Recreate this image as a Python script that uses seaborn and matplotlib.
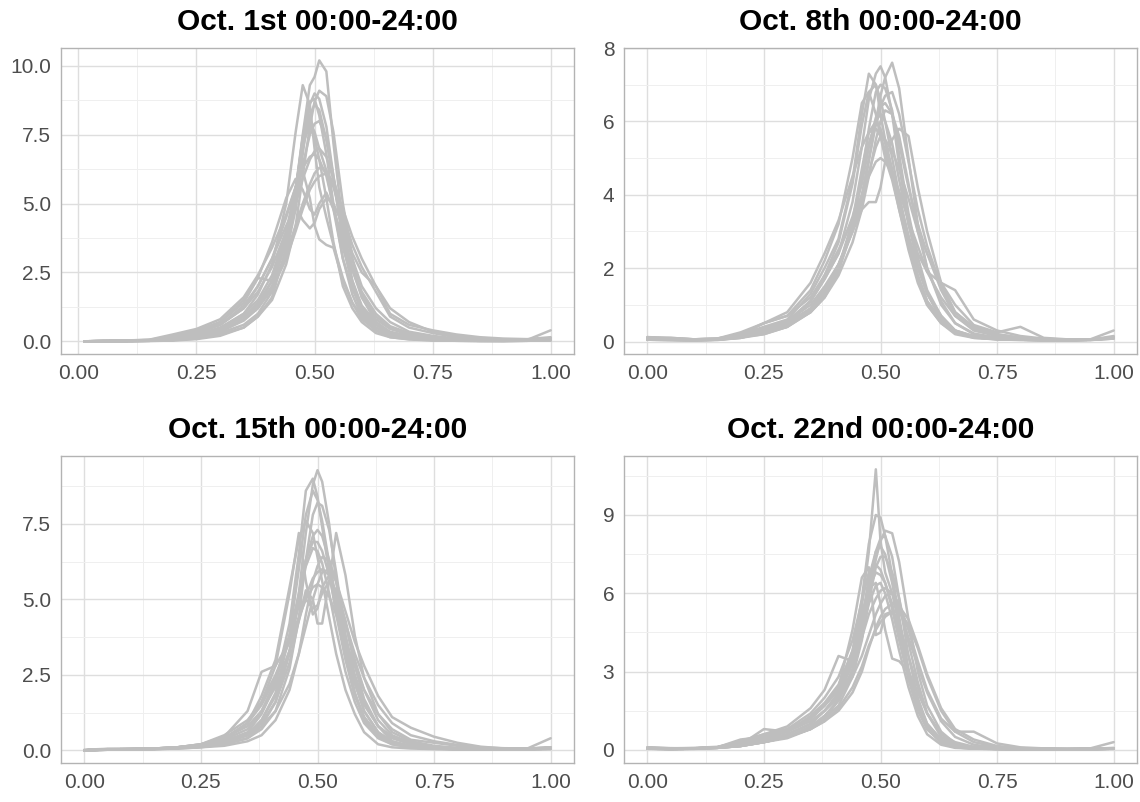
import numpy as np
import pandas as pd
import matplotlib
matplotlib.use("Agg")
import matplotlib.pyplot as plt
import seaborn as sns
from matplotlib.ticker import FixedLocator

# ---------------- data ----------------
TITLES = ["Oct. 1st 00:00-24:00", "Oct. 8th 00:00-24:00",
          "Oct. 15th 00:00-24:00", "Oct. 22nd 00:00-24:00"]

X_GRID = [0.0, 0.05, 0.10, 0.15, 0.20, 0.25, 0.30, 0.35, 0.38, 0.41,
          0.44, 0.46, 0.475, 0.49, 0.50, 0.51, 0.525, 0.54, 0.56, 0.58,
          0.60, 0.63, 0.66, 0.70, 0.75, 0.80, 0.85, 0.90, 0.95, 1.0]
X_START = [0.0125, 0.0, 0.0, 0.0]

OCT01 = [
    [0.0, 0.0, 0.01, 0.02, 0.05, 0.15, 0.35, 0.8, 1.3, 2.2, 3.8, 5.5, 7.5, 9.3, 9.6, 10.2, 9.8, 7.2, 4.2, 2.2, 1.1, 0.5, 0.25, 0.12, 0.06, 0.03, 0.02, 0.02, 0.03, 0.05],
    [0.0, 0.01, 0.02, 0.03, 0.08, 0.2, 0.45, 1.0, 1.7, 2.8, 5.0, 7.6, 9.3, 8.6, 7.0, 5.6, 4.5, 3.5, 2.3, 1.4, 0.8, 0.4, 0.2, 0.1, 0.05, 0.03, 0.02, 0.02, 0.04, 0.1],
    [0.0, 0.01, 0.02, 0.04, 0.12, 0.3, 0.7, 1.4, 2.3, 3.6, 5.2, 5.9, 5.5, 4.8, 4.6, 5.0, 5.4, 4.8, 3.7, 2.6, 1.6, 0.8, 0.45, 0.25, 0.12, 0.06, 0.04, 0.03, 0.03, 0.05],
    [0.0, 0.02, 0.03, 0.05, 0.2, 0.35, 0.6, 1.2, 2.0, 3.0, 4.5, 5.6, 6.2, 5.2, 4.2, 3.7, 3.5, 3.4, 2.2, 1.4, 0.9, 0.5, 0.3, 0.2, 0.1, 0.06, 0.04, 0.03, 0.05, 0.4],
    [0.0, 0.0, 0.01, 0.03, 0.08, 0.25, 0.5, 1.0, 1.5, 2.4, 4.0, 5.6, 7.0, 8.2, 8.6, 8.4, 7.3, 5.8, 3.8, 2.6, 1.7, 0.9, 0.5, 0.25, 0.12, 0.06, 0.04, 0.03, 0.04, 0.08],
    [0.0, 0.01, 0.02, 0.04, 0.1, 0.3, 0.6, 1.2, 1.8, 2.7, 4.0, 5.0, 5.9, 6.6, 6.9, 7.0, 6.7, 5.9, 4.6, 3.5, 2.7, 1.8, 0.9, 0.5, 0.3, 0.15, 0.08, 0.05, 0.06, 0.12],
    [0.0, 0.0, 0.01, 0.02, 0.05, 0.12, 0.3, 0.6, 1.0, 1.8, 3.2, 4.8, 6.8, 8.6, 9.0, 8.8, 7.8, 6.0, 3.6, 2.0, 1.0, 0.4, 0.15, 0.07, 0.03, 0.02, 0.01, 0.01, 0.02, 0.03],
    [0.0, 0.0, 0.01, 0.02, 0.05, 0.15, 0.35, 0.8, 1.2, 1.9, 3.0, 4.0, 4.8, 5.5, 5.8, 6.0, 6.1, 5.8, 4.8, 3.8, 3.0, 2.0, 1.2, 0.7, 0.35, 0.2, 0.1, 0.06, 0.05, 0.1],
    [0.0, 0.01, 0.02, 0.05, 0.15, 0.4, 0.7, 1.5, 2.3, 2.2, 3.8, 5.5, 7.4, 8.0, 7.6, 7.0, 6.2, 4.8, 3.0, 1.9, 1.2, 0.6, 0.3, 0.15, 0.08, 0.04, 0.03, 0.03, 0.04, 0.06],
    [0.0, 0.0, 0.0, 0.01, 0.03, 0.08, 0.2, 0.5, 0.9, 1.6, 3.4, 5.5, 7.2, 7.8, 7.4, 6.6, 5.2, 3.6, 2.0, 1.2, 0.7, 0.3, 0.15, 0.08, 0.04, 0.02, 0.01, 0.01, 0.02, 0.03],
    [0.0, 0.01, 0.02, 0.04, 0.1, 0.3, 0.6, 1.3, 2.0, 3.0, 4.2, 4.9, 4.4, 4.1, 4.3, 4.8, 5.2, 5.0, 4.2, 3.0, 2.0, 1.2, 0.7, 0.35, 0.2, 0.1, 0.06, 0.04, 0.05, 0.1],
    [0.0, 0.0, 0.01, 0.02, 0.04, 0.1, 0.25, 0.5, 0.9, 1.5, 2.8, 4.2, 6.0, 7.8, 8.7, 9.1, 8.9, 7.6, 5.0, 3.0, 1.6, 0.7, 0.3, 0.12, 0.05, 0.03, 0.02, 0.01, 0.02, 0.04],
    [0.0, 0.0, 0.01, 0.03, 0.07, 0.2, 0.45, 0.9, 1.4, 2.2, 3.6, 5.0, 6.4, 7.5, 7.9, 8.0, 7.4, 6.0, 4.0, 2.7, 1.8, 1.0, 0.55, 0.3, 0.15, 0.08, 0.05, 0.04, 0.05, 0.1],
    [0.0, 0.01, 0.03, 0.06, 0.25, 0.45, 0.8, 1.6, 2.4, 3.4, 4.6, 5.6, 6.3, 6.7, 6.8, 6.6, 6.0, 4.9, 3.4, 2.2, 1.3, 0.7, 0.35, 0.2, 0.1, 0.06, 0.04, 0.03, 0.04, 0.08],
    [0.0, 0.0, 0.01, 0.02, 0.05, 0.15, 0.35, 0.75, 1.2, 2.0, 3.6, 5.4, 7.4, 8.7, 8.8, 8.2, 6.8, 5.0, 3.0, 1.7, 0.9, 0.4, 0.2, 0.1, 0.05, 0.03, 0.02, 0.02, 0.03, 0.05],
    [0.0, 0.01, 0.02, 0.03, 0.08, 0.2, 0.4, 0.9, 1.3, 2.0, 3.2, 4.2, 5.0, 5.7, 6.1, 6.3, 6.2, 5.6, 4.4, 3.2, 2.5, 2.0, 1.0, 0.6, 0.4, 0.25, 0.15, 0.1, 0.08, 0.15],
]

OCT08 = [
    [0.05, 0.04, 0.03, 0.05, 0.12, 0.2, 0.4, 0.9, 1.4, 2.1, 3.0, 3.9, 4.9, 6.0, 6.7, 7.2, 7.6, 6.9, 5.0, 3.2, 2.0, 1.0, 0.5, 0.2, 0.1, 0.05, 0.04, 0.03, 0.04, 0.1],
    [0.1, 0.07, 0.05, 0.06, 0.15, 0.3, 0.5, 1.1, 1.7, 2.4, 3.8, 5.3, 6.6, 7.3, 7.5, 7.2, 6.2, 4.8, 3.2, 2.1, 1.3, 0.6, 0.25, 0.1, 0.06, 0.05, 0.04, 0.04, 0.05, 0.1],
    [0.1, 0.1, 0.06, 0.08, 0.2, 0.4, 0.6, 1.3, 2.0, 2.8, 4.4, 6.2, 7.3, 7.0, 6.2, 5.5, 4.7, 3.9, 2.9, 2.0, 1.3, 0.7, 0.3, 0.15, 0.08, 0.05, 0.04, 0.04, 0.05, 0.1],
    [0.08, 0.06, 0.05, 0.06, 0.15, 0.35, 0.55, 1.0, 1.5, 2.1, 3.0, 3.6, 3.8, 3.8, 4.2, 4.9, 5.5, 5.8, 5.6, 4.2, 3.0, 1.6, 0.8, 0.4, 0.2, 0.1, 0.06, 0.05, 0.05, 0.1],
    [0.05, 0.05, 0.04, 0.06, 0.15, 0.35, 0.55, 1.1, 1.7, 2.4, 3.4, 4.3, 5.3, 6.1, 6.4, 6.5, 6.2, 5.4, 4.2, 3.2, 2.4, 1.4, 0.7, 0.3, 0.15, 0.08, 0.05, 0.04, 0.05, 0.12],
    [0.12, 0.1, 0.06, 0.07, 0.2, 0.5, 0.7, 1.4, 2.2, 3.2, 5.0, 6.5, 6.8, 6.2, 5.6, 5.0, 4.4, 3.6, 2.6, 1.7, 1.0, 0.5, 0.2, 0.1, 0.06, 0.05, 0.04, 0.04, 0.05, 0.08],
    [0.05, 0.05, 0.04, 0.05, 0.12, 0.3, 0.5, 0.9, 1.4, 2.0, 3.0, 3.8, 4.6, 5.3, 5.6, 5.5, 5.2, 4.7, 3.9, 3.0, 2.4, 1.6, 1.0, 0.45, 0.25, 0.4, 0.1, 0.06, 0.05, 0.1],
    [0.06, 0.05, 0.04, 0.05, 0.1, 0.25, 0.45, 0.8, 1.2, 1.8, 2.7, 3.6, 4.5, 5.5, 6.0, 6.3, 6.2, 5.6, 4.3, 3.0, 2.0, 1.1, 0.5, 0.22, 0.1, 0.06, 0.04, 0.04, 0.05, 0.15],
    [0.1, 0.08, 0.06, 0.08, 0.2, 0.5, 0.7, 1.2, 1.8, 2.5, 3.3, 4.0, 4.5, 4.9, 5.0, 4.9, 4.6, 4.1, 3.3, 2.6, 1.9, 1.2, 0.7, 0.35, 0.2, 0.1, 0.07, 0.05, 0.06, 0.3],
    [0.05, 0.04, 0.03, 0.04, 0.1, 0.2, 0.4, 0.8, 1.2, 1.9, 3.1, 4.5, 5.8, 6.8, 7.0, 6.9, 6.3, 5.1, 3.5, 2.3, 1.4, 0.7, 0.3, 0.12, 0.06, 0.04, 0.03, 0.03, 0.04, 0.08],
    [0.08, 0.06, 0.05, 0.06, 0.12, 0.25, 0.4, 0.8, 1.3, 2.0, 3.3, 4.7, 5.7, 6.0, 5.8, 5.4, 4.6, 3.7, 2.6, 1.8, 1.1, 0.6, 0.3, 0.14, 0.07, 0.05, 0.04, 0.04, 0.05, 0.1],
    [0.06, 0.05, 0.04, 0.05, 0.12, 0.3, 0.5, 0.9, 1.4, 2.1, 3.1, 4.0, 5.0, 5.9, 6.4, 6.7, 6.8, 6.2, 4.9, 3.6, 2.6, 1.5, 0.8, 0.35, 0.15, 0.08, 0.05, 0.04, 0.05, 0.1],
    [0.12, 0.08, 0.06, 0.08, 0.25, 0.5, 0.8, 1.6, 2.4, 3.3, 4.5, 5.3, 5.7, 5.8, 5.6, 5.2, 4.5, 3.6, 2.5, 1.6, 1.0, 0.5, 0.25, 0.12, 0.07, 0.05, 0.04, 0.04, 0.05, 0.1],
    [0.05, 0.04, 0.03, 0.05, 0.1, 0.25, 0.45, 0.85, 1.3, 2.0, 3.2, 4.4, 5.4, 6.0, 6.2, 6.0, 5.4, 4.4, 3.2, 2.4, 1.9, 1.6, 1.4, 0.6, 0.3, 0.15, 0.08, 0.05, 0.05, 0.1],
    [0.08, 0.06, 0.05, 0.06, 0.15, 0.35, 0.55, 1.1, 1.8, 2.7, 4.3, 5.9, 6.8, 7.0, 6.6, 6.0, 5.0, 4.0, 2.8, 1.8, 1.1, 0.55, 0.25, 0.12, 0.07, 0.05, 0.04, 0.04, 0.05, 0.08],
]

OCT15 = [
    [0.0, 0.02, 0.03, 0.05, 0.08, 0.12, 0.2, 0.4, 0.8, 1.6, 3.2, 5.2, 7.2, 8.8, 9.28, 8.9, 7.5, 5.6, 3.4, 1.9, 1.0, 0.45, 0.2, 0.1, 0.06, 0.04, 0.03, 0.03, 0.03, 0.05],
    [0.02, 0.05, 0.05, 0.06, 0.1, 0.15, 0.3, 0.6, 1.2, 2.2, 4.2, 6.5, 8.6, 9.0, 8.4, 7.4, 5.9, 4.5, 3.0, 1.8, 1.1, 0.5, 0.25, 0.12, 0.07, 0.05, 0.04, 0.03, 0.04, 0.08],
    [0.0, 0.04, 0.04, 0.06, 0.1, 0.18, 0.35, 0.9, 1.6, 2.8, 5.2, 7.2, 5.6, 4.5, 4.7, 5.4, 5.8, 5.2, 3.8, 2.5, 1.6, 0.8, 0.4, 0.2, 0.1, 0.06, 0.04, 0.04, 0.05, 0.1],
    [0.0, 0.03, 0.04, 0.05, 0.08, 0.12, 0.25, 0.5, 0.9, 1.6, 2.9, 4.3, 5.3, 5.0, 4.2, 4.2, 5.6, 7.2, 5.8, 3.8, 2.4, 1.2, 0.6, 0.3, 0.15, 0.08, 0.05, 0.04, 0.04, 0.06],
    [0.0, 0.03, 0.04, 0.05, 0.1, 0.15, 0.35, 0.7, 1.3, 2.3, 3.8, 5.2, 6.3, 6.9, 6.9, 6.6, 5.8, 4.7, 3.4, 2.3, 1.5, 0.8, 0.45, 0.25, 0.12, 0.07, 0.05, 0.04, 0.04, 0.08],
    [0.0, 0.03, 0.04, 0.06, 0.1, 0.2, 0.45, 1.3, 2.6, 2.8, 3.6, 5.0, 6.1, 6.7, 6.6, 6.2, 5.2, 4.0, 2.6, 1.6, 0.9, 0.4, 0.2, 0.1, 0.06, 0.05, 0.04, 0.04, 0.05, 0.08],
    [0.0, 0.02, 0.03, 0.04, 0.08, 0.15, 0.3, 0.5, 0.8, 1.3, 2.2, 3.2, 4.1, 5.0, 5.5, 5.9, 6.0, 5.6, 4.6, 3.6, 2.8, 1.8, 1.1, 0.75, 0.45, 0.25, 0.12, 0.06, 0.05, 0.1],
    [0.0, 0.02, 0.03, 0.04, 0.06, 0.1, 0.2, 0.4, 0.7, 1.3, 2.7, 4.4, 6.3, 7.8, 8.2, 8.1, 7.3, 5.9, 3.8, 2.3, 1.3, 0.6, 0.25, 0.12, 0.06, 0.04, 0.03, 0.03, 0.04, 0.05],
    [0.0, 0.04, 0.05, 0.06, 0.1, 0.2, 0.5, 1.0, 1.6, 2.5, 3.6, 4.4, 5.0, 5.4, 5.5, 5.4, 5.1, 4.5, 3.6, 2.8, 2.0, 1.2, 0.7, 0.35, 0.25, 0.15, 0.08, 0.06, 0.06, 0.4],
    [0.0, 0.03, 0.04, 0.05, 0.08, 0.15, 0.4, 0.9, 1.8, 3.0, 5.4, 7.0, 7.6, 7.2, 6.4, 5.6, 4.4, 3.2, 2.0, 1.2, 0.6, 0.2, 0.1, 0.06, 0.04, 0.03, 0.03, 0.03, 0.04, 0.06],
    [0.0, 0.02, 0.03, 0.04, 0.06, 0.1, 0.15, 0.3, 0.5, 1.0, 2.0, 3.2, 4.5, 5.6, 6.1, 6.4, 6.3, 5.6, 4.2, 2.8, 1.7, 0.8, 0.3, 0.1, 0.05, 0.03, 0.02, 0.02, 0.03, 0.04],
    [0.0, 0.03, 0.04, 0.05, 0.08, 0.12, 0.25, 0.5, 1.0, 1.9, 3.8, 6.0, 7.8, 8.6, 8.3, 7.6, 6.2, 4.8, 3.1, 1.9, 1.1, 0.5, 0.25, 0.12, 0.06, 0.04, 0.03, 0.03, 0.04, 0.06],
    [0.0, 0.03, 0.04, 0.05, 0.1, 0.18, 0.4, 0.8, 1.3, 2.1, 3.3, 4.3, 5.1, 5.7, 5.9, 6.0, 5.8, 5.2, 4.2, 3.2, 2.4, 1.5, 0.9, 0.5, 0.3, 0.18, 0.1, 0.07, 0.06, 0.1],
    [0.0, 0.02, 0.03, 0.04, 0.07, 0.12, 0.25, 0.55, 1.0, 1.8, 3.3, 4.9, 6.3, 7.1, 7.3, 7.1, 6.3, 5.0, 3.4, 2.2, 1.3, 0.6, 0.3, 0.15, 0.07, 0.04, 0.03, 0.03, 0.04, 0.06],
    [0.0, 0.03, 0.04, 0.06, 0.1, 0.2, 0.4, 0.9, 1.5, 2.4, 3.8, 4.8, 5.0, 4.7, 4.8, 5.2, 5.6, 5.3, 4.3, 3.0, 2.0, 1.0, 0.5, 0.25, 0.12, 0.07, 0.05, 0.04, 0.04, 0.08],
]

OCT22 = [
    [0.05, 0.03, 0.05, 0.1, 0.2, 0.3, 0.5, 0.8, 1.2, 1.9, 3.5, 5.5, 7.6, 10.75, 8.0, 6.8, 6.0, 4.8, 3.0, 1.6, 0.8, 0.3, 0.1, 0.05, 0.03, 0.02, 0.02, 0.02, 0.03, 0.05],
    [0.08, 0.05, 0.06, 0.1, 0.25, 0.4, 0.6, 1.0, 1.5, 2.2, 3.8, 5.8, 7.9, 9.0, 8.9, 8.2, 6.7, 5.1, 3.1, 1.7, 0.9, 0.3, 0.12, 0.06, 0.04, 0.03, 0.03, 0.03, 0.03, 0.06],
    [0.05, 0.03, 0.05, 0.08, 0.15, 0.3, 0.5, 0.8, 1.2, 1.7, 2.8, 4.2, 5.8, 7.3, 8.0, 8.4, 8.3, 7.2, 5.0, 3.0, 1.7, 0.7, 0.25, 0.1, 0.05, 0.03, 0.03, 0.02, 0.03, 0.05],
    [0.1, 0.06, 0.08, 0.12, 0.3, 0.6, 0.8, 1.2, 1.7, 2.4, 4.6, 6.6, 7.0, 4.4, 4.5, 5.2, 5.3, 4.8, 3.6, 2.4, 1.4, 0.6, 0.25, 0.1, 0.06, 0.04, 0.03, 0.03, 0.04, 0.08],
    [0.05, 0.04, 0.06, 0.1, 0.2, 0.45, 0.7, 1.3, 1.8, 2.5, 3.8, 5.2, 6.2, 6.4, 5.6, 4.6, 3.5, 3.4, 3.0, 2.2, 1.4, 0.6, 0.3, 0.12, 0.06, 0.04, 0.03, 0.03, 0.03, 0.05],
    [0.1, 0.07, 0.06, 0.1, 0.35, 0.6, 0.9, 1.6, 2.3, 3.6, 3.4, 4.5, 5.6, 6.3, 6.4, 6.0, 5.0, 3.8, 2.4, 1.3, 0.6, 0.2, 0.08, 0.05, 0.04, 0.03, 0.03, 0.03, 0.03, 0.05],
    [0.05, 0.03, 0.04, 0.08, 0.15, 0.3, 0.5, 0.9, 1.3, 1.9, 3.0, 4.3, 5.7, 7.0, 7.4, 7.4, 6.8, 5.8, 4.1, 2.6, 1.4, 0.5, 0.2, 0.08, 0.04, 0.03, 0.02, 0.02, 0.03, 0.04],
    [0.05, 0.04, 0.05, 0.1, 0.2, 0.8, 0.7, 1.1, 1.5, 2.0, 2.8, 3.6, 4.4, 5.2, 5.6, 5.9, 6.0, 5.6, 4.6, 3.4, 2.3, 1.2, 0.7, 0.7, 0.25, 0.1, 0.06, 0.05, 0.06, 0.3],
    [0.08, 0.05, 0.06, 0.1, 0.4, 0.5, 0.7, 1.2, 1.7, 2.3, 3.6, 5.0, 6.2, 6.8, 6.7, 6.4, 5.6, 4.5, 3.0, 1.8, 1.0, 0.4, 0.15, 0.06, 0.04, 0.03, 0.03, 0.03, 0.04, 0.06],
    [0.05, 0.04, 0.05, 0.08, 0.15, 0.3, 0.5, 0.8, 1.1, 1.6, 2.4, 3.2, 4.0, 4.6, 4.9, 5.1, 5.3, 5.3, 4.8, 3.9, 2.8, 1.5, 0.7, 0.3, 0.12, 0.06, 0.04, 0.03, 0.04, 0.06],
    [0.06, 0.04, 0.05, 0.08, 0.18, 0.35, 0.6, 1.0, 1.5, 2.1, 3.3, 4.9, 6.6, 7.6, 7.8, 7.5, 6.4, 4.9, 3.0, 1.6, 0.8, 0.3, 0.12, 0.06, 0.04, 0.03, 0.03, 0.03, 0.03, 0.05],
    [0.06, 0.04, 0.05, 0.08, 0.15, 0.3, 0.5, 0.9, 1.3, 1.9, 3.1, 4.6, 6.2, 7.6, 8.1, 8.2, 7.4, 5.8, 3.6, 2.0, 1.0, 0.4, 0.15, 0.07, 0.04, 0.03, 0.02, 0.02, 0.03, 0.05],
    [0.08, 0.05, 0.06, 0.1, 0.25, 0.5, 0.7, 1.2, 1.7, 2.3, 3.3, 4.3, 5.2, 5.8, 6.1, 6.2, 6.0, 5.4, 4.3, 3.2, 2.2, 1.1, 0.5, 0.2, 0.08, 0.05, 0.04, 0.03, 0.04, 0.06],
    [0.06, 0.04, 0.06, 0.1, 0.3, 0.55, 0.8, 1.4, 2.0, 2.8, 4.2, 5.7, 6.8, 7.1, 6.9, 6.4, 5.4, 4.2, 2.7, 1.5, 0.8, 0.3, 0.1, 0.05, 0.04, 0.03, 0.03, 0.03, 0.03, 0.05],
    [0.05, 0.04, 0.05, 0.08, 0.15, 0.3, 0.45, 0.8, 1.1, 1.5, 2.2, 3.0, 3.9, 4.7, 5.1, 5.4, 5.6, 5.5, 5.0, 4.0, 2.9, 1.6, 0.8, 0.4, 0.15, 0.07, 0.04, 0.03, 0.04, 0.06],
]

Y_TICKS = [[0, 2.5, 5, 7.5, 10], [0, 2, 4, 6, 8], [0, 2.5, 5, 7.5], [0, 3, 6, 9]]
Y_TICK_LABELS = [["0.0", "2.5", "5.0", "7.5", "10.0"], ["0", "2", "4", "6", "8"],
                 ["0.0", "2.5", "5.0", "7.5"], ["0", "3", "6", "9"]]
X_TICKS = [0.0, 0.25, 0.5, 0.75, 1.0]
X_TICK_LABELS = ["0.00", "0.25", "0.50", "0.75", "1.00"]

PANELS = [OCT01, OCT08, OCT15, OCT22]

# ---------------- layout / style ----------------
W, H = 1140, 802
BOXES = [(61, 574, 48, 354), (624, 1137, 48, 354),
         (61, 574, 456, 763), (624, 1137, 456, 763)]
YLIMS = [(-0.46, 10.65), (-0.34, 8.0), (-0.42, 9.75), (-0.5, 11.26)]
LINE_COLOR = "#BEBEBE"

sns.set_style("white")
plt.rcParams["font.family"] = ["Liberation Sans", "DejaVu Sans"]

fig = plt.figure(figsize=(W / 100, H / 100), dpi=100)

for i, curves in enumerate(PANELS):
    l, r, t, b = BOXES[i]
    ax = fig.add_axes([l / W, 1 - b / H, (r - l) / W, (b - t) / H])
    xs = [X_START[i]] + X_GRID[1:]
    rows = []
    for k, ys in enumerate(curves):
        for xv, yv in zip(xs, ys):
            rows.append((k, xv, yv))
    df = pd.DataFrame(rows, columns=["curve", "x", "y"])
    sns.lineplot(data=df, x="x", y="y", units="curve", estimator=None,
                 color=LINE_COLOR, lw=1.8, ax=ax, sort=False,
                 solid_joinstyle="round", solid_capstyle="round")
    xmin = X_START[i]
    span = 1.0 - xmin
    ax.set_xlim(xmin - 0.05 * span, 1.0 + 0.05 * span)
    ax.set_ylim(*YLIMS[i])
    ax.set_xticks(X_TICKS)
    ax.set_xticklabels(X_TICK_LABELS)
    ax.set_yticks(Y_TICKS[i])
    ax.set_yticklabels(Y_TICK_LABELS[i])
    yt = Y_TICKS[i]
    step = yt[1] - yt[0]
    ax.yaxis.set_minor_locator(FixedLocator([v + step / 2 for v in yt] + [yt[0] - step / 2]))
    ax.xaxis.set_minor_locator(FixedLocator([0.125, 0.375, 0.625, 0.875]))
    ax.set_axisbelow(True)
    ax.grid(True, which="major", color="#DEDEDE", lw=1.0)
    ax.grid(True, which="minor", color="#EFEFEF", lw=0.7)
    ax.tick_params(which="major", length=4, width=0.8, color="#B3B3B3",
                   labelsize=15, labelcolor="#4D4D4D", pad=3)
    ax.tick_params(which="minor", length=0)
    for s in ax.spines.values():
        s.set_visible(True)
        s.set_color("#B3B3B3")
        s.set_linewidth(1.0)
    ax.set_xlabel("")
    ax.set_ylabel("")
    ax.set_title(TITLES[i], fontsize=21.5, fontweight="bold", color="black", pad=13)

fig.savefig("out.png", dpi=100, facecolor="white")
